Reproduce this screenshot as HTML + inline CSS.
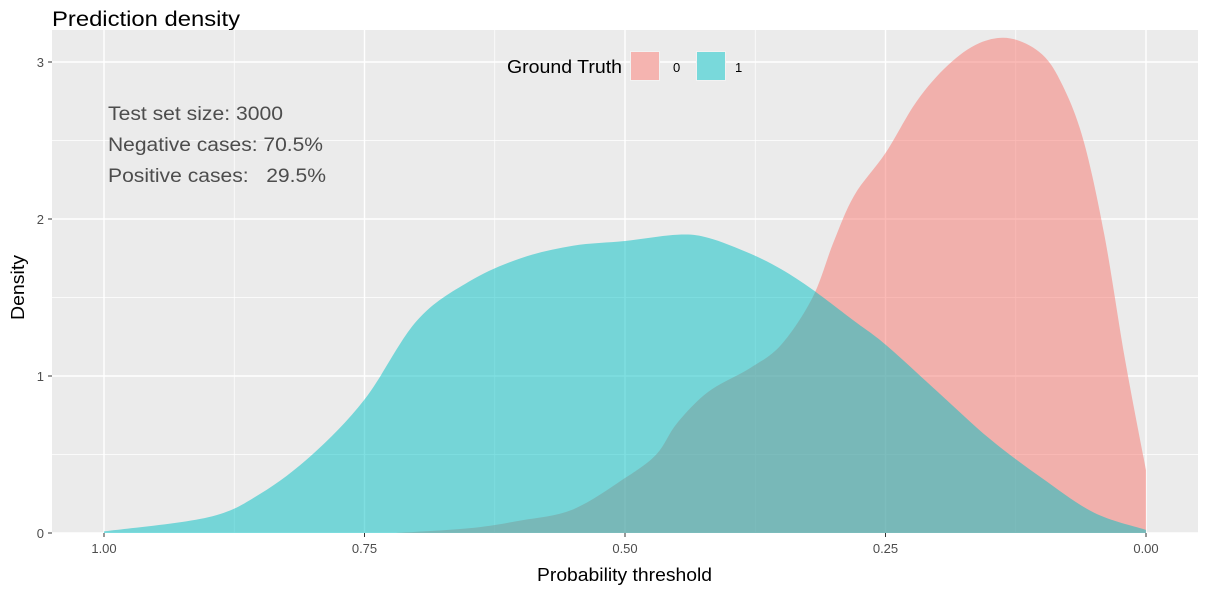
<!DOCTYPE html>
<html><head><meta charset="utf-8">
<style>
body{margin:0;background:#fff;}
svg{display:block;font-family:"Liberation Sans",Arial,sans-serif;}
</style></head>
<body>
<svg id="chart" width="1207" height="589" viewBox="0 0 1207 589">
<text x="52" y="26" font-size="21" fill="#000" textLength="188" lengthAdjust="spacingAndGlyphs">Prediction density</text>
<rect x="52" y="30" width="1146" height="503" fill="#EBEBEB"/>
<g id="grid"></g>
<g id="areas"></g>
<g id="axes"></g>
<g>
<text x="507" y="73" font-size="18" fill="#000" textLength="115" lengthAdjust="spacingAndGlyphs">Ground Truth</text>
<rect x="630" y="51" width="30" height="30" fill="#F2F2F2"/>
<rect x="631" y="52" width="28" height="28" fill="#F8766D" fill-opacity="0.5"/>
<text x="673" y="72" font-size="13" fill="#000">0</text>
<rect x="696" y="51" width="30" height="30" fill="#F2F2F2"/>
<rect x="697" y="52" width="28" height="28" fill="#00BFC4" fill-opacity="0.5"/>
<text x="735" y="72" font-size="13" fill="#000">1</text>
</g>
<g font-size="19" fill="#4D4D4D">
<text x="108" y="120" textLength="175" lengthAdjust="spacingAndGlyphs">Test set size: 3000</text>
<text x="108" y="151" textLength="215" lengthAdjust="spacingAndGlyphs">Negative cases: 70.5%</text>
<text x="108" y="182" textLength="218" lengthAdjust="spacingAndGlyphs" xml:space="preserve">Positive cases:   29.5%</text>
</g>
<text x="537" y="581" font-size="18" fill="#000" textLength="175" lengthAdjust="spacingAndGlyphs">Probability threshold</text>
<text transform="translate(24,320) rotate(-90)" font-size="18" fill="#000" textLength="65" lengthAdjust="spacingAndGlyphs">Density</text>
</svg>
<script>
const xTicks=[1.00,0.75,0.50,0.25,0.00];
const xTickLabels=["1.00","0.75","0.50","0.25","0.00"];
const yTicks=[0,1,2,3];
const yTickLabels=["0","1","2","3"];
const negX=[0.72,0.65,0.6,0.55,0.5,0.47,0.45,0.42,0.38,0.35,0.32,0.30,0.28,0.25,0.22,0.19,0.16,0.13,0.10,0.08,0.06,0.04,0.02,0.0];
const negY=[0.0,0.03,0.08,0.15,0.35,0.5,0.7,0.9,1.05,1.2,1.5,1.85,2.15,2.42,2.75,2.98,3.12,3.15,3.05,2.85,2.5,1.9,1.1,0.4];
const posX=[1.0,0.9,0.85,0.8,0.75,0.7,0.65,0.6,0.55,0.5,0.45,0.42,0.38,0.35,0.32,0.28,0.25,0.2,0.15,0.1,0.05,0.0];
const posY=[0.01,0.1,0.25,0.5,0.85,1.35,1.6,1.75,1.83,1.86,1.9,1.88,1.78,1.68,1.55,1.35,1.2,0.9,0.6,0.35,0.13,0.02];
const NS="http://www.w3.org/2000/svg";
const sx=v=>1146-v*1042;
const sy=d=>533-d*157;
function mk(tag,attrs,parent){const e=document.createElementNS(NS,tag);for(const k in attrs)e.setAttribute(k,attrs[k]);parent.appendChild(e);return e;}
const grid=document.getElementById('grid');
[0.5,1.5,2.5].forEach(d=>{const l=mk('line',{x1:52,x2:1198,y1:sy(d),y2:sy(d),stroke:'#fff','stroke-width':0.7},grid);

});
[0.875,0.625,0.375,0.125].forEach(v=>{const l=mk('line',{x1:sx(v),x2:sx(v),y1:30,y2:533,stroke:'#fff','stroke-width':0.7},grid);

});
yTicks.forEach(d=>{const l=mk('line',{x1:52,x2:1198,y1:sy(d),y2:sy(d),stroke:'#fff','stroke-width':1.4},grid);

});
xTicks.forEach(v=>{const l=mk('line',{x1:sx(v),x2:sx(v),y1:30,y2:533,stroke:'#fff','stroke-width':1.4},grid);

});
function smoothPath(xs,ys){
  const p=xs.map((x,i)=>[sx(x),sy(ys[i])]);
  let d='M'+sx(xs[0])+','+sy(0)+' L'+p[0][0]+','+p[0][1];
  for(let i=0;i<p.length-1;i++){
    const p0=p[i-1]||p[i],p1=p[i],p2=p[i+1],p3=p[i+2]||p2;
    const c1=[p1[0]+(p2[0]-p0[0])/6,p1[1]+(p2[1]-p0[1])/6];
    const c2=[p2[0]-(p3[0]-p1[0])/6,p2[1]-(p3[1]-p1[1])/6];
    d+=' C'+c1+' '+c2+' '+p2;
  }
  d+=' L'+sx(xs[xs.length-1])+','+sy(0)+'Z';
  return d;
}
const areas=document.getElementById('areas');
const a0=mk('path',{d:smoothPath(negX,negY),fill:'#F8766D','fill-opacity':0.5},areas);


const a1=mk('path',{d:smoothPath(posX,posY),fill:'#00BFC4','fill-opacity':0.5},areas);


const axes=document.getElementById('axes');
xTicks.forEach((v,i)=>{
  const t=mk('line',{x1:sx(v),x2:sx(v),y1:533,y2:537,stroke:'#333','stroke-width':1},axes);
  
  
  const tx=mk('text',{x:sx(v),y:553,'font-size':13,'text-anchor':'middle',fill:'#4D4D4D'},axes);
  tx.textContent=xTickLabels[i];
  
  
});
yTicks.forEach((d,i)=>{
  const t=mk('line',{x1:48,x2:52,y1:sy(d),y2:sy(d),stroke:'#333','stroke-width':1},axes);
  
  
  const tx=mk('text',{x:44,y:sy(d)+5,'font-size':13,'text-anchor':'end',fill:'#4D4D4D'},axes);
  tx.textContent=yTickLabels[i];
  
  
});
</script>
</body></html>
